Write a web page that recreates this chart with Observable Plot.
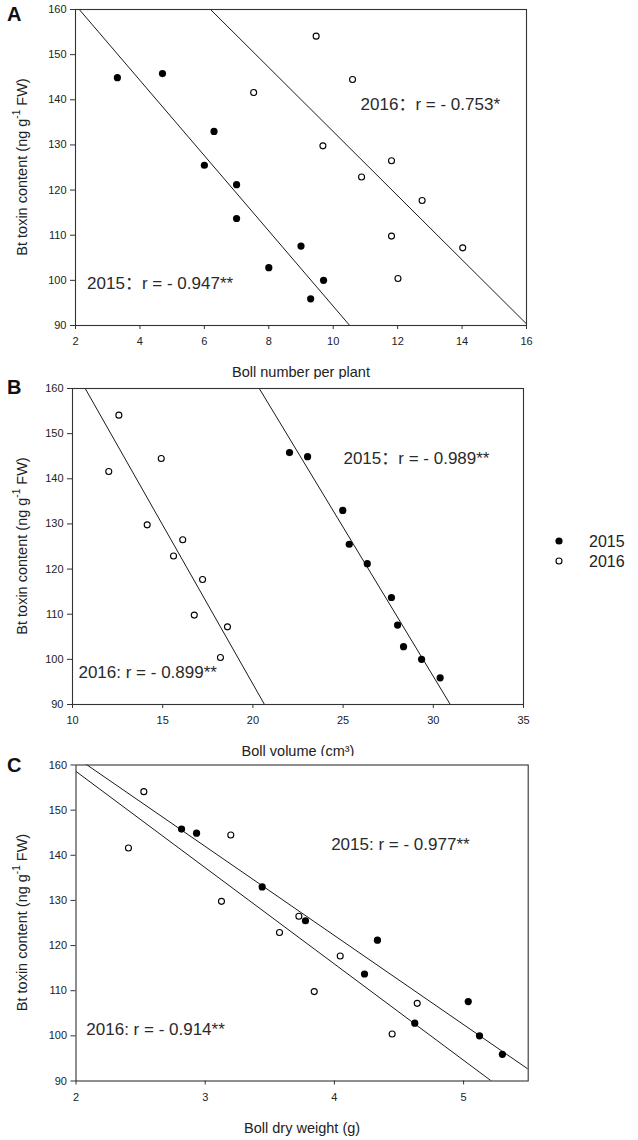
<!DOCTYPE html>
<html><head><meta charset="utf-8">
<script src="https://cdn.jsdelivr.net/npm/d3@7"></script>
<script src="https://cdn.jsdelivr.net/npm/@observablehq/plot@0.6"></script>
<style>
body{margin:0;background:#fff;}
#root{position:relative;width:638px;height:1140px;background:#fff;overflow:hidden;font-family:"Liberation Sans",Arial,sans-serif;}
.panel{position:absolute;left:0;}
#overlay{position:absolute;left:0;top:0;pointer-events:none;}
</style></head><body><div id="root"></div>
<script>
// ---- data ----
const years = ["2015", "2016"];
const toxin2015 = [144.9, 145.8, 133.0, 125.5, 121.2, 113.7, 107.6, 102.8, 100.0, 95.9];
const toxin2016 = [154.1, 141.6, 144.5, 129.8, 122.9, 126.5, 117.7, 109.8, 100.4, 107.2];
const bollNumber2015 = [3.3, 4.7, 6.3, 6.0, 7.0, 7.0, 9.0, 8.0, 9.7, 9.3];
const bollNumber2016 = [9.47, 7.53, 10.6, 9.68, 10.88, 11.81, 12.76, 11.81, 12.01, 14.02];
const bollVolume2015 = [23.03, 22.03, 24.98, 25.34, 26.34, 27.68, 28.02, 28.35, 29.35, 30.38];
const bollVolume2016 = [12.57, 12.01, 14.92, 14.14, 15.60, 16.11, 17.21, 16.75, 18.20, 18.59];
const bollWeight2015 = [2.933, 2.817, 3.441, 3.776, 4.333, 4.233, 5.036, 4.622, 5.123, 5.30];
const bollWeight2016 = [2.525, 2.406, 3.198, 3.126, 3.575, 3.725, 4.045, 3.844, 4.447, 4.641];
const yTicks = [90, 100, 110, 120, 130, 140, 150, 160];
const xTicksA = [2, 4, 6, 8, 10, 12, 14, 16];
const xTicksB = [10, 15, 20, 25, 30, 35];
const xTicksC = [2, 3, 4, 5];
const xTitles = ["Boll number per plant", "Boll volume (cm³)", "Boll dry weight (g)"];
const panelLetters = ["A", "B", "C"];
const rLabelsA = ["2015：r = - 0.947**", "2016：r = - 0.753*"];
const rLabelsB = ["2015：r = - 0.989**", "2016: r = - 0.899**"];
const rLabelsC = ["2015: r = - 0.977**", "2016: r = - 0.914**"];

// ---- layout ----
const panels = [
  {letter: panelLetters[0], top: 0, height: 379, mt: 9, ml: 75, mr: 14, xDomain: [2, 16], xTicks: xTicksA,
   x15: bollNumber2015, x16: bollNumber2016, title: xTitles[0], labels: rLabelsA, labelPos: [[2.36, 99.3], [10.85, 138.9]]},
  {letter: panelLetters[1], top: 379, height: 379, mt: 9, ml: 72, mr: 17, xDomain: [10, 35], xTicks: xTicksB,
   x15: bollVolume2015, x16: bollVolume2016, title: xTitles[1], labels: rLabelsB, labelPos: [[25.02, 144.5], [10.33, 97.1]]},
  {letter: panelLetters[2], top: 756, height: 384, mt: 8.5, ml: 75.5, mr: 12.3, xDomain: [2, 5.5], xTicks: xTicksC,
   x15: bollWeight2015, x16: bollWeight2016, title: xTitles[2], labels: rLabelsC, labelPos: [[3.975, 142.4], [2.08, 101.4]]}
];
const W = 540, plotH = 316;
const FONT = '"Liberation Sans", Arial, "Noto Sans CJK SC", sans-serif';

function fit(xs, ys) {
  const mx = d3.mean(xs), my = d3.mean(ys);
  let sxy = 0, sxx = 0;
  xs.forEach((x, i) => { sxy += (x - mx) * (ys[i] - my); sxx += (x - mx) ** 2; });
  const b = sxy / sxx;
  return {a: my - b * mx, b};
}

const root = document.getElementById("root");

panels.forEach(p => {
  const rows15 = p.x15.map((x, i) => ({x, y: toxin2015[i], year: years[0]}));
  const rows16 = p.x16.map((x, i) => ({x, y: toxin2016[i], year: years[1]}));
  const f15 = fit(p.x15, toxin2015), f16 = fit(p.x16, toxin2016);
  const fitRows = [
    ...p.xDomain.map(x => ({x, y: f15.a + f15.b * x, year: years[0]})),
    ...p.xDomain.map(x => ({x, y: f16.a + f16.b * x, year: years[1]}))
  ];
  const ann = p.labels.map((t, i) => ({text: t, x: p.labelPos[i][0], y: p.labelPos[i][1]}));
  const mb = p.height - p.mt - plotH;
  const chart = Plot.plot({
    width: W, height: p.height,
    marginTop: p.mt, marginLeft: p.ml, marginRight: p.mr, marginBottom: mb,
    style: {fontFamily: FONT, fontSize: "11px", color: "#222", background: "#fff"},
    x: {domain: p.xDomain},
    y: {domain: [90, 160]},
    marks: [
      Plot.line(fitRows, {x: "x", y: "y", z: "year", stroke: "#1a1a1a", strokeWidth: 1, clip: true}),
      Plot.dot(rows16, {x: "x", y: "y", r: 3, fill: "#fff", stroke: "#000", strokeWidth: 1.1}),
      Plot.dot(rows15, {x: "x", y: "y", r: 3.6, fill: "#000"}),
      Plot.frame({stroke: "#333", strokeWidth: 1.1}),
      Plot.text(ann, {x: "x", y: "y", text: "text", textAnchor: "start", lineAnchor: "middle", fontSize: 17, fill: "#2a2a2a", fontFamily: FONT}),
      Plot.axisX({ticks: p.xTicks, tickFormat: d => String(d), tickSize: 4, tickPadding: 8, label: null, stroke: "#333"}),
      Plot.axisY({ticks: yTicks, tickFormat: d => String(d), tickSize: 5, tickPadding: 4, label: null, stroke: "#333"}),
      Plot.text([p.title], {frameAnchor: "bottom", textAnchor: "middle", lineAnchor: "middle", dy: 47, fontSize: 14.5, fill: "#222"})
    ]
  });
  const wrap = document.createElement("div");
  wrap.className = "panel";
  wrap.style.top = p.top + "px";
  wrap.appendChild(chart);
  root.appendChild(wrap);

  // y-axis title with superscript
  const svg = d3.select(chart.tagName.toLowerCase() === "svg" ? chart : chart.querySelector("svg"));
  const cy = p.mt + plotH / 2;
  const t = svg.append("text")
    .attr("transform", `translate(23,${cy}) rotate(-90)`)
    .attr("text-anchor", "middle")
    .attr("dominant-baseline", "middle")
    .attr("font-size", 14.5)
    .attr("fill", "#222");
  t.append("tspan").text("Bt toxin content (ng g");
  t.append("tspan").attr("baseline-shift", "super").attr("font-size", 10).text("-1");
  t.append("tspan").text(" FW)");
});

// overlay: panel letters and legend
const ov = d3.select(root).append("svg").attr("id", "overlay").attr("width", 638).attr("height", 1140)
  .style("font-family", FONT);
const letterBase = [21, 393.5, 771.5];
panels.forEach((p, i) => {
  ov.append("text").attr("x", 7).attr("y", letterBase[i]).attr("font-size", 20).attr("font-weight", "bold")
    .attr("fill", "#111").text(p.letter);
});
const lg = ov.append("g").attr("transform", "translate(559,541)");
years.forEach((yr, i) => {
  const g = lg.append("g").attr("transform", `translate(0,${i * 20})`);
  if (i === 0) g.append("circle").attr("r", 3.6).attr("fill", "#000");
  else g.append("circle").attr("r", 3).attr("fill", "#fff").attr("stroke", "#000").attr("stroke-width", 1.1);
  g.append("text").attr("x", 30).attr("dy", "0.35em").attr("font-size", 16).attr("fill", "#222").text(yr);
});
</script></body></html>
